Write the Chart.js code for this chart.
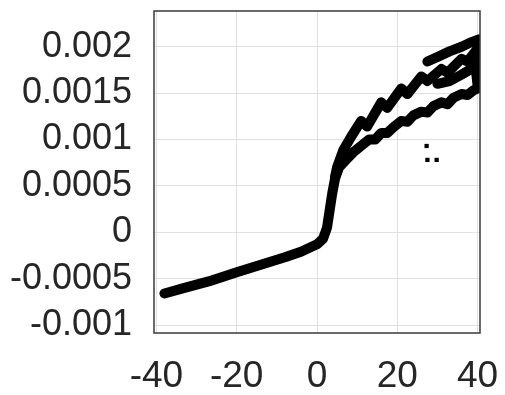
<!DOCTYPE html>
<html>
<head>
<meta charset="utf-8">
<script src="https://cdn.jsdelivr.net/npm/chart.js@4/dist/chart.umd.min.js"></script>
<style>
  html, body { margin: 0; padding: 0; background: #fff; }
  canvas { display: block; }
</style>
</head>
<body>
<canvas id="chart" width="505" height="395"></canvas>
<script>
const X_TICKS = [-40, -20, 0, 20, 40];
const Y_TICKS = [-0.001, -0.0005, 0, 0.0005, 0.001, 0.0015, 0.002];
const Y_TICK_LABELS = ["-0.001", "-0.0005", "0", "0.0005", "0.001", "0.0015", "0.002"];

// main branch: slow linear part, steep jump near 3, then lower band
const mainX = [-38, -33, -27, -20, -14, -8, -4, 0, 1.5, 2.5, 3.2, 3.8, 4.5, 5.5, 7, 9, 11, 13, 14.5, 16, 17.5, 19, 21, 22.5, 24, 26, 27.5, 29, 31, 32.5, 34, 36, 37.5, 39, 40];
const mainY = [-0.00066, -0.0006, -0.00053, -0.00043, -0.00035, -0.00027, -0.00021, -0.00013, -0.00007, 0.00005, 0.00025, 0.00042, 0.00058, 0.0007, 0.00077, 0.00086, 0.00093, 0.001, 0.001, 0.00107, 0.00107, 0.00113, 0.0012, 0.00119, 0.00126, 0.0013, 0.00129, 0.00136, 0.0014, 0.00138, 0.00145, 0.00149, 0.00148, 0.00153, 0.00155];

// upper band with sawtooth
const upperX = [4.5, 5, 6.5, 8.5, 11, 12.5, 16, 17.5, 21, 22.5, 26, 27.5, 31, 32.5, 36, 37.5, 40];
const upperY = [0.0006, 0.0007, 0.00088, 0.00103, 0.0012, 0.00114, 0.0014, 0.00134, 0.00155, 0.00149, 0.00168, 0.00163, 0.00176, 0.00172, 0.00187, 0.00184, 0.00198];

// top segment from 27 to 40
const topX = [27.5, 30, 33, 36, 38.5, 40.3];
const topY = [0.00184, 0.00189, 0.00195, 0.002, 0.00205, 0.00208];

// filled-in middle part at the right edge
const midX = [30, 33, 36, 38, 39.5, 40, 40];
const midY = [0.0016, 0.00163, 0.0017, 0.00175, 0.00178, 0.00158, 0.00205];

// stray points
const dotsX = [27.3, 27.5, 29.8];
const dotsY = [0.00093, 0.00078, 0.00078];

const INK = "#000000";
const TEXT = "#262626";

function toPoints(xs, ys) {
  return xs.map((x, i) => ({ x, y: ys[i] }));
}

function bandDataset(xs, ys) {
  return {
    data: toPoints(xs, ys),
    showLine: true,
    borderColor: INK,
    borderWidth: 10,
    borderCapStyle: "round",
    borderJoinStyle: "round",
    pointRadius: 0,
    tension: 0,
  };
}

const boxPlugin = {
  id: "box",
  afterDraw(chart) {
    const { ctx, chartArea } = chart;
    ctx.save();
    ctx.strokeStyle = "#3a3a3a";
    ctx.lineWidth = 1.5;
    ctx.strokeRect(chartArea.left, chartArea.top, chartArea.right - chartArea.left, chartArea.bottom - chartArea.top);
    ctx.restore();
  },
};

new Chart(document.querySelector("#chart"), {
  type: "scatter",
  data: {
    datasets: [
      bandDataset(mainX, mainY),
      bandDataset(upperX, upperY),
      bandDataset(topX, topY),
      bandDataset(midX, midY),
      {
        data: toPoints(dotsX, dotsY),
        pointRadius: 3,
        pointStyle: "rect",
        backgroundColor: INK,
        borderColor: INK,
        borderWidth: 0,
      },
    ],
  },
  options: {
    responsive: false,
    animation: false,
    layout: { padding: { top: 11, right: 25, left: 0, bottom: 0 } },
    plugins: { legend: { display: false }, tooltip: { enabled: false } },
    scales: {
      x: {
        type: "linear",
        min: -40.6,
        max: 40.6,
        afterBuildTicks: (scale) => {
          scale.ticks = X_TICKS.map((value) => ({ value }));
        },
        afterFit: (scale) => {
          scale.height = 62;
          scale.paddingLeft = 0;
          scale.paddingRight = 0;
        },
        grid: { color: "#e0e0e0", drawTicks: false },
        border: { display: false },
        ticks: {
          color: TEXT,
          padding: 22,
          maxRotation: 0,
          font: { family: "'Liberation Sans', Arial, sans-serif", size: 37 },
        },
      },
      y: {
        type: "linear",
        min: -0.001086,
        max: 0.002385,
        afterBuildTicks: (scale) => {
          scale.ticks = Y_TICKS.map((value) => ({ value }));
        },
        afterFit: (scale) => {
          scale.width = 154;
          scale.paddingTop = 0;
          scale.paddingBottom = 0;
        },
        grid: { color: "#e0e0e0", drawTicks: false },
        border: { display: false },
        ticks: {
          color: TEXT,
          padding: 22,
          callback: (value) => {
            const index = Y_TICKS.findIndex((tick) => Math.abs(tick - value) < 1e-9);
            return index >= 0 ? Y_TICK_LABELS[index] : "";
          },
          font: { family: "'Liberation Sans', Arial, sans-serif", size: 36 },
        },
      },
    },
  },
  plugins: [boxPlugin],
});
</script>
</body>
</html>
